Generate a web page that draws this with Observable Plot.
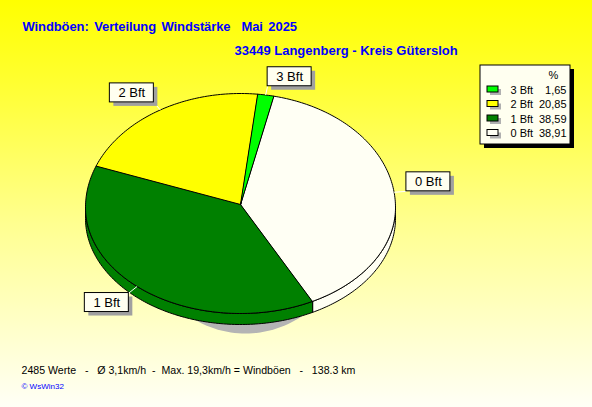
<!DOCTYPE html>
<html><head><meta charset="utf-8">
<script src="https://cdn.jsdelivr.net/npm/d3@7"></script>
<script src="https://cdn.jsdelivr.net/npm/@observablehq/plot@0.6"></script>
<style>html,body{margin:0;padding:0;background:#fff;}#chart svg{display:block;}</style>
</head><body><div id="chart"></div>
<script>
// ---- data ----
const categories = ["0 Bft", "1 Bft", "2 Bft", "3 Bft"];
const percents = [38.91, 38.59, 20.85, 1.65];
const sliceColors = ["#FFFFF4", "#008000", "#FFFF00", "#00FF00"];
const titleText = "Windböen: Verteilung Windstärke  Mai 2025";
const subtitleText = "33449 Langenberg - Kreis Gütersloh";
const footerText = "2485 Werte   -   Ø 3,1km/h  -  Max. 19,3km/h = Windböen   -   138.3 km";
const creditText = "© WsWin32";
const legendHeader = "%";

// ---- layout ----
const W = 592, H = 407;
const cx = 240, cy = 207, apexY = 204, rx = 155, ryTop = 114, ryBot = 106, depth = 11;
const startDeg = 12.3;
const FONT = "'Liberation Sans', Arial, sans-serif";
const nb = s => s.replace(/ /g, "\u00A0");

const a0 = startDeg * Math.PI / 180;
const pie = d3.pie().sort(null).value(d => d.value).startAngle(a0).endAngle(a0 + 2 * Math.PI);
const slices = pie(categories.map((c, i) => ({category: c, value: percents[i], color: sliceColors[i]})));

function rim(a, dy = 0) {
  const s = Math.sin(a), c = Math.cos(a);
  return {x: cx + rx * s, y: cy - (c > 0 ? ryTop : ryBot) * c + dy};
}
function arcPts(b0, b1, dy = 0) {
  const n = Math.max(2, Math.ceil((b1 - b0) / (Math.PI / 180)));
  const pts = [];
  for (let i = 0; i <= n; i++) pts.push(rim(b0 + (b1 - b0) * i / n, dy));
  return pts;
}
const poly = (pts, fill, stroke = "black") =>
  Plot.line(pts, {x: "x", y: "y", fill, stroke, strokeWidth: 1, curve: "linear-closed"});

// shadow ellipse
const shadowPts = d3.range(0, 361, 2).map(d => {
  const a = d * Math.PI / 180;
  return {x: 245 + 105 * Math.sin(a), y: 222 - 111 * Math.cos(a)};
});

// sides
const sideMarks = [];
for (const s of slices) {
  const b0 = Math.max(s.startAngle, Math.PI / 2), b1 = Math.min(s.endAngle, 3 * Math.PI / 2);
  if (b1 > b0) {
    const top = arcPts(b0, b1, 0), bot = arcPts(b0, b1, depth).reverse();
    sideMarks.push(poly(top.concat(bot), s.data.color));
  }
}
// tops
const topMarks = slices.map(s => poly([{x: cx, y: apexY}, ...arcPts(s.startAngle, s.endAngle)], s.data.color));

// labels
const bw = 44, bh = 19, k = 1.08;
const labels = slices.map(s => {
  const mid = (s.startAngle + s.endAngle) / 2;
  const r = rim(mid);
  const ax = cx + (r.x - cx) * k, ay = apexY + (r.y - apexY) * k;
  const sn = Math.sin(mid), cs = Math.cos(mid);
  const x1 = sn >= 0 ? ax : ax - bw, y1 = cs >= 0 ? ay - bh : ay;
  return {rx: r.x, ry: r.y, ax, ay, x1, y1, x2: x1 + bw, y2: y1 + bh, text: s.data.category};
});

// legend
const legendRows = categories.map((c, i) => ({c, v: percents[i], col: sliceColors[i]})).reverse()
  .map((d, i) => ({...d, base: 93 + i * 14.5}));
const fmt = v => d3.format(".2f")(v).replace(".", ",");

const plot = Plot.plot({
  width: W, height: H, margin: 0,
  x: {domain: [0, W], range: [0, W], axis: null},
  y: {domain: [0, H], range: [0, H], axis: null},
  style: {background: "linear-gradient(to bottom, #FFFF00 0%, #FFFF30 20%, #FFFF90 55%, #FFFFF6 100%)", fontFamily: FONT},
  marks: [
    // title & subtitle
    Plot.text([titleText], {x: 22, y: 30, text: d => d, textAnchor: "start", lineAnchor: "bottom", fontSize: 13, fontWeight: "bold", fill: "#0000FF", fontFamily: FONT}),
    Plot.text([nb(subtitleText)], {x: 234, y: 54, text: d => d, textAnchor: "start", lineAnchor: "bottom", fontSize: 13, fontWeight: "bold", fill: "#0000FF", fontFamily: FONT}),
    // pie
    poly(shadowPts, "#B4B4B4", "none"),
    ...sideMarks,
    ...topMarks,
    // leader lines
    Plot.link(labels, {x1: "rx", y1: "ry", x2: "ax", y2: "ay", stroke: "white", strokeWidth: 1}),
    // label boxes
    Plot.rect(labels, {x1: d => d.x1 + 4, x2: d => d.x2 + 4, y1: d => d.y1 + 4, y2: d => d.y2 + 4, fill: "#A0A0A0"}),
    Plot.rect(labels, {x1: "x1", x2: "x2", y1: "y1", y2: "y2", fill: "#FFFFF0", stroke: "black", strokeWidth: 1}),
    Plot.text(labels, {x: d => (d.x1 + d.x2) / 2, y: d => d.y1 + 14, text: d => nb(d.text), lineAnchor: "bottom", fontSize: 13, fill: "black", fontFamily: FONT}),
    // legend
    Plot.rect([0], {x1: 484, x2: 574, y1: 69, y2: 148, fill: "black"}),
    Plot.rect([0], {x1: 480, x2: 570, y1: 65, y2: 144, fill: "#FFFFF0", stroke: "black", strokeWidth: 1}),
    Plot.text([legendHeader], {x: 553, y: 78, text: d => d, lineAnchor: "bottom", fontSize: 11, fill: "black", fontFamily: FONT}),
    Plot.rect(legendRows, {x1: 490, x2: 501, y1: d => d.base - 4, y2: d => d.base + 2, fill: "#B0B0B0"}),
    Plot.rect(legendRows, {x1: 487, x2: 498, y1: d => d.base - 7, y2: d => d.base - 1, fill: d => d.col, stroke: "black", strokeWidth: 1}),
    Plot.text(legendRows, {x: 510, y: "base", text: d => nb(d.c), textAnchor: "start", lineAnchor: "bottom", fontSize: 11, fill: "black", fontFamily: FONT}),
    Plot.text(legendRows, {x: 566, y: "base", text: d => fmt(d.v), textAnchor: "end", lineAnchor: "bottom", fontSize: 11, fill: "black", fontFamily: FONT}),
    // footer
    Plot.text([nb(footerText)], {x: 21, y: 373, text: d => d, textAnchor: "start", lineAnchor: "bottom", fontSize: 10.6, fill: "black", fontFamily: FONT}),
    Plot.text([nb(creditText)], {x: 21, y: 388, text: d => d, textAnchor: "start", lineAnchor: "bottom", fontSize: 8, fill: "#0000FF", fontFamily: FONT})
  ]
});
plot.setAttribute("fill", "currentColor");
// widen word gaps of the title (reference font has wider spaces)
d3.select(plot).selectAll("text").filter(function () { return this.textContent === titleText; })
  .attr("xml:space", "preserve").style("white-space", "pre").style("word-spacing", "2px").style("letter-spacing", "-0.1px");
document.getElementById("chart").appendChild(plot);
</script>
</body></html>
